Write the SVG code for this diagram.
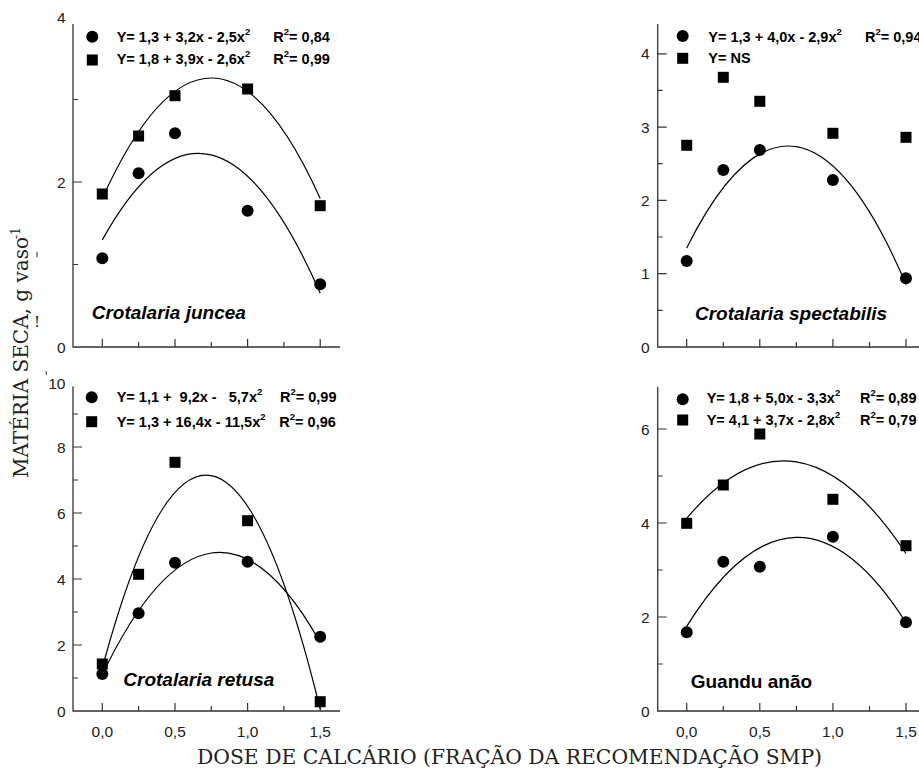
<svg xmlns="http://www.w3.org/2000/svg" width="919" height="769" viewBox="0 0 919 769">
<style>
.ax{stroke:#333;stroke-width:1.3;fill:none}
.tk{stroke:#333;stroke-width:1.2}
.cv{stroke:#000;stroke-width:1.2;fill:none}
.lab{font-family:"Liberation Sans",Arial,sans-serif;font-size:15.5px;fill:#222}
.lg{font-family:"Liberation Sans",Arial,sans-serif;font-size:14.5px;font-weight:bold;fill:#000}
.sup{font-size:9.5px}
.sp{font-family:"Liberation Sans",Arial,sans-serif;font-size:19px;font-weight:bold;font-style:italic;fill:#000}
.spn{font-family:"Liberation Sans",Arial,sans-serif;font-size:19px;font-weight:bold;fill:#000}
.ttl{font-family:"DejaVu Serif","Liberation Serif",serif;font-size:20px;fill:#222}
.r{text-anchor:end}
.m{text-anchor:middle}
</style>
<defs>
<circle id="c" r="6" fill="#000"/>
<rect id="s" x="-5.5" y="-5.5" width="11" height="11" fill="#000"/>
</defs>

<!-- Titles -->
<g id="titles">
<text class="ttl" x="197" y="764" textLength="625" lengthAdjust="spacingAndGlyphs">DOSE DE CALCÁRIO (FRAÇÃO DA RECOMENDAÇÃO SMP)</text>
<text class="ttl" transform="translate(28,478) rotate(-90)">MATÉRIA SECA, g vaso</text>
<text class="ttl" transform="translate(28,478) rotate(-90)" x="239" y="-8" style="font-size:12px">-1</text>
<text class="ttl m" x="37" y="327" style="font-size:15px">!</text>
<line x1="37" y1="252" x2="37" y2="257" stroke="#444" stroke-width="1.2"/>
<line x1="46" y1="371" x2="46.5" y2="375" stroke="#444" stroke-width="1"/>
</g>

<!-- Panel: Crotalaria juncea -->
<g id="panel-juncea">
<path class="ax" d="M73,24 V347 H340"/>
<path class="tk" d="M73,182 h9 M73,264.5 h5 M73,99.5 h5 M102.3,347 v-8 M138.6,347 v-5 M175,347 v-8 M211.3,347 v-5 M247.6,347 v-8 M283.9,347 v-5 M320.2,347 v-8"/>
<text class="lab r" x="65.5" y="23">4</text>
<text class="lab r" x="65.5" y="187.5">2</text>
<text class="lab r" x="65.5" y="352.5">0</text>
<path class="cv" d="M102.3,239.9 Q211.2,43.2 320.2,293.2"/>
<path class="cv" d="M102.3,198.5 Q211.3,-42.5 320.2,198.5"/>
<use href="#c" x="102.3" y="258.3"/><use href="#c" x="138.6" y="173.3"/><use href="#c" x="175" y="133.3"/><use href="#c" x="247.6" y="210.7"/><use href="#c" x="320.2" y="284.3"/>
<use href="#s" x="102.3" y="194"/><use href="#s" x="138.6" y="136"/><use href="#s" x="175" y="95.7"/><use href="#s" x="247.6" y="89"/><use href="#s" x="320.2" y="205.7"/>
<use href="#c" x="92.3" y="36.7"/><use href="#s" x="92.3" y="60"/>
<text class="lg" x="116.7" y="42.3">Y= 1,3 + 3,2x - 2,5x<tspan class="sup" dy="-7">2</tspan></text>
<text class="lg" x="273.3" y="42.3">R<tspan class="sup" dy="-7">2</tspan><tspan dy="7">= 0,84</tspan></text>
<text class="lg" x="116.7" y="64.3">Y= 1,8 + 3,9x - 2,6x<tspan class="sup" dy="-7">2</tspan></text>
<text class="lg" x="273.3" y="64.3">R<tspan class="sup" dy="-7">2</tspan><tspan dy="7">= 0,99</tspan></text>
<text class="sp" x="91.7" y="319.3">Crotalaria juncea</text>
</g>

<!-- Panel: Crotalaria spectabilis -->
<g id="panel-spectabilis">
<path class="ax" d="M657.7,24 V347 H919"/>
<path class="tk" d="M657.7,53.8 h9 M657.7,127.1 h9 M657.7,200.4 h9 M657.7,273.7 h9 M657.7,90.4 h5 M657.7,163.7 h5 M657.7,237 h5 M657.7,310.3 h5 M686.7,347 v-8 M723.3,347 v-5 M759.8,347 v-8 M796.4,347 v-5 M832.9,347 v-8 M869.5,347 v-5 M906,347 v-8"/>
<text class="lab r" x="649.5" y="59.3">4</text>
<text class="lab r" x="649.5" y="132.6">3</text>
<text class="lab r" x="649.5" y="205.9">2</text>
<text class="lab r" x="649.5" y="279.2">1</text>
<text class="lab r" x="649.5" y="352.5">0</text>
<path class="cv" d="M686.7,248 Q796.4,27.2 906,284.4"/>
<use href="#c" x="686.7" y="261"/><use href="#c" x="723.3" y="170"/><use href="#c" x="759.8" y="150"/><use href="#c" x="832.9" y="180"/><use href="#c" x="906" y="278.3"/>
<use href="#s" x="686.7" y="145.3"/><use href="#s" x="723.3" y="77.3"/><use href="#s" x="759.8" y="101.3"/><use href="#s" x="832.9" y="133.3"/><use href="#s" x="906" y="137.3"/>
<use href="#c" x="682.7" y="36"/><use href="#s" x="682.7" y="58.3"/>
<text class="lg" x="708.3" y="42.3">Y= 1,3 + 4,0x - 2,9x<tspan class="sup" dy="-7">2</tspan></text>
<text class="lg" x="865" y="42.3">R<tspan class="sup" dy="-7">2</tspan><tspan dy="7">= 0,94</tspan></text>
<text class="lg" x="708.3" y="63.3">Y= NS</text>
<text class="sp" x="695" y="320">Crotalaria spectabilis</text>
</g>

<!-- Panel: Crotalaria retusa -->
<g id="panel-retusa">
<path class="ax" d="M73,386.5 V711 H340"/>
<path class="tk" d="M73,645 h9 M73,579 h9 M73,513 h9 M73,447 h9 M73,678 h5 M73,612 h5 M73,546 h5 M73,480 h5 M73,414 h5 M102.3,711 v-8 M138.6,711 v-5 M175,711 v-8 M211.3,711 v-5 M247.6,711 v-8 M283.9,711 v-5 M320.2,711 v-8"/>
<text class="lab r" x="65.5" y="388.5">10</text>
<text class="lab r" x="65.5" y="452.5">8</text>
<text class="lab r" x="65.5" y="518.5">6</text>
<text class="lab r" x="65.5" y="584.5">4</text>
<text class="lab r" x="65.5" y="650.5">2</text>
<text class="lab r" x="65.5" y="716.5">0</text>
<text class="lab m" x="102.3" y="736.5">0,0</text>
<text class="lab m" x="175" y="736.5">0,5</text>
<text class="lab m" x="247.6" y="736.5">1,0</text>
<text class="lab m" x="320.2" y="736.5">1,5</text>
<path class="cv" d="M102.3,674.7 Q211.2,447.4 320.2,642.5"/>
<path class="cv" d="M102.3,668.1 Q211.2,262.6 320.2,709.2"/>
<use href="#c" x="102.3" y="674"/><use href="#c" x="138.6" y="613.3"/><use href="#c" x="175" y="562.7"/><use href="#c" x="247.6" y="561.7"/><use href="#c" x="320.2" y="636.7"/>
<use href="#s" x="102.3" y="664"/><use href="#s" x="138.6" y="574.3"/><use href="#s" x="175" y="462.3"/><use href="#s" x="247.6" y="520.7"/><use href="#s" x="320.2" y="701.7"/>
<use href="#c" x="91.7" y="397.3"/><use href="#s" x="91.7" y="421.7"/>
<text class="lg" x="116.7" y="402.3" xml:space="preserve">Y= 1,1 +  9,2x -   5,7x<tspan class="sup" dy="-7">2</tspan></text>
<text class="lg" x="280" y="402.3">R<tspan class="sup" dy="-7">2</tspan><tspan dy="7">= 0,99</tspan></text>
<text class="lg" x="116.7" y="427.3">Y= 1,3 + 16,4x - 11,5x<tspan class="sup" dy="-7">2</tspan></text>
<text class="lg" x="279.3" y="427.3">R<tspan class="sup" dy="-7">2</tspan><tspan dy="7">= 0,96</tspan></text>
<text class="sp" x="123.3" y="686">Crotalaria retusa</text>
</g>

<!-- Panel: Guandu anão -->
<g id="panel-guandu">
<path class="ax" d="M657.7,386.7 V711 H919"/>
<path class="tk" d="M657.7,617 h9 M657.7,523 h9 M657.7,429 h9 M657.7,664 h5 M657.7,570 h5 M657.7,476 h5 M686.7,711 v-8 M723.3,711 v-5 M759.8,711 v-8 M796.4,711 v-5 M832.9,711 v-8 M869.5,711 v-5 M906,711 v-8"/>
<text class="lab r" x="649.5" y="434.5">6</text>
<text class="lab r" x="649.5" y="528.5">4</text>
<text class="lab r" x="649.5" y="622.5">2</text>
<text class="lab r" x="649.5" y="716.5">0</text>
<text class="lab m" x="686.7" y="736.5">0,0</text>
<text class="lab m" x="759.8" y="736.5">0,5</text>
<text class="lab m" x="832.9" y="736.5">1,0</text>
<text class="lab m" x="906" y="736.5">1,5</text>
<path class="cv" d="M686.7,626.4 Q796.4,450.2 906,622.7"/>
<path class="cv" d="M686.7,518.3 Q796.4,388 906,553.5"/>
<use href="#c" x="686.7" y="632.3"/><use href="#c" x="723.3" y="561.7"/><use href="#c" x="759.8" y="566.7"/><use href="#c" x="832.9" y="536.7"/><use href="#c" x="906" y="622.3"/>
<use href="#s" x="686.7" y="523.3"/><use href="#s" x="723.3" y="485"/><use href="#s" x="759.8" y="434"/><use href="#s" x="832.9" y="499.3"/><use href="#s" x="906" y="545.7"/>
<use href="#c" x="682.7" y="399.3"/><use href="#s" x="682.7" y="420"/>
<text class="lg" x="706.7" y="403.3">Y= 1,8 + 5,0x - 3,3x<tspan class="sup" dy="-7">2</tspan></text>
<text class="lg" x="860" y="403.3">R<tspan class="sup" dy="-7">2</tspan><tspan dy="7">= 0,89</tspan></text>
<text class="lg" x="706.7" y="425">Y= 4,1 + 3,7x - 2,8x<tspan class="sup" dy="-7">2</tspan></text>
<text class="lg" x="860" y="425">R<tspan class="sup" dy="-7">2</tspan><tspan dy="7">= 0,79</tspan></text>
<text class="spn" x="690.7" y="688.3">Guandu anão</text>
</g>
</svg>
